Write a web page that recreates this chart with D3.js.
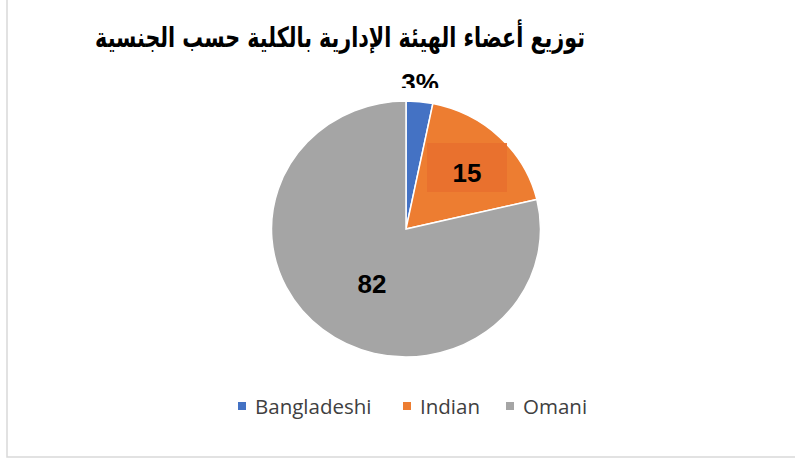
<!DOCTYPE html>
<html>
<head>
<meta charset="utf-8">
<script src="https://cdn.jsdelivr.net/npm/d3@7"></script>
<style>
  body { margin: 0; background: #fff; }
  svg { display: block; }
</style>
</head>
<body>
<div id="chart"></div>
<script>
// data
let categories = ["Bangladeshi", "Indian", "Omani"];
let shares = [3.2, 18.1, 78.7];          // slice sizes as drawn
let labelTexts = ["3%", "15", "82"];      // labels as printed on the chart
let colors = ["#4472C4", "#ED7D31", "#A5A5A5"];
let title = "توزيع أعضاء الهيئة الإدارية بالكلية حسب الجنسية";

let width = 795, height = 462;

let svg = d3.select("#chart").append("svg")
  .attr("width", width)
  .attr("height", height);

// chart frame (right and top edges fall outside the picture)
svg.append("rect")
  .attr("x", 7).attr("y", -10)
  .attr("width", 820).attr("height", 467)
  .attr("fill", "#fff")
  .attr("stroke", "#D9D9D9")
  .attr("stroke-width", 1.5);

// title, stretched a bit to match the heavier Arial Arabic of the original
let titleText = svg.append("text")
  .attr("x", 0)
  .attr("y", 0)
  .attr("text-anchor", "middle")
  .attr("font-family", "DejaVu Sans, sans-serif")
  .attr("font-weight", "bold")
  .attr("font-size", 26)
  .attr("fill", "#000")
  .attr("transform", "translate(340,47) scale(1,1.35)")
  .text(title);
let tw = titleText.node().getComputedTextLength();
titleText.attr("font-size", 26 * 490 / tw);

let cx = 406, cy = 229, ry = 128, rx = 134.5;

let pie = d3.pie().sort(null).value(d => d)(shares);
let arc = d3.arc().innerRadius(0).outerRadius(ry);

let g = svg.append("g")
  .attr("transform", `translate(${cx},${cy}) scale(${rx / ry},1)`);

g.selectAll("path.slice")
  .data(pie)
  .enter().append("path")
  .attr("class", "slice")
  .attr("d", arc)
  .attr("fill", (d, i) => colors[i])
  .attr("stroke", "#fff")
  .attr("stroke-width", 1.5)
  .attr("vector-effect", "non-scaling-stroke");

// the top label is cut off at its bottom in the original
svg.append("clipPath").attr("id", "topClip")
  .append("rect").attr("x", 0).attr("y", 0).attr("width", width).attr("height", 88);

let labelPos = [[420, 92], [467, 182], [372, 293]];

// background box behind the Indian label
svg.append("rect")
  .attr("x", 427).attr("y", 143)
  .attr("width", 80).attr("height", 49)
  .attr("fill", "#E8702F")
  .attr("opacity", 0.9);

svg.append("g")
  .selectAll("text")
  .data(labelTexts)
  .enter().append("text")
  .attr("clip-path", (d, i) => i === 0 ? "url(#topClip)" : null)
  .attr("x", (d, i) => labelPos[i][0])
  .attr("y", (d, i) => labelPos[i][1])
  .attr("text-anchor", "middle")
  .attr("font-family", "Liberation Sans, Arial, sans-serif")
  .attr("font-weight", "bold")
  .attr("font-size", 26)
  .attr("fill", "#000")
  .text(d => d);

// legend
let legendX = [238, 403, 506];
let legend = svg.append("g");
let items = legend.selectAll("g")
  .data(categories)
  .enter().append("g")
  .attr("transform", (d, i) => `translate(${legendX[i]},402)`);

items.append("rect")
  .attr("width", 8).attr("height", 8)
  .attr("fill", (d, i) => colors[i]);

items.append("text")
  .attr("x", 17)
  .attr("y", 12)
  .attr("font-family", "Open Sans, sans-serif")
  .attr("font-size", 20.5)
  .attr("fill", "#404040")
  .text(d => d);
</script>
</body>
</html>
